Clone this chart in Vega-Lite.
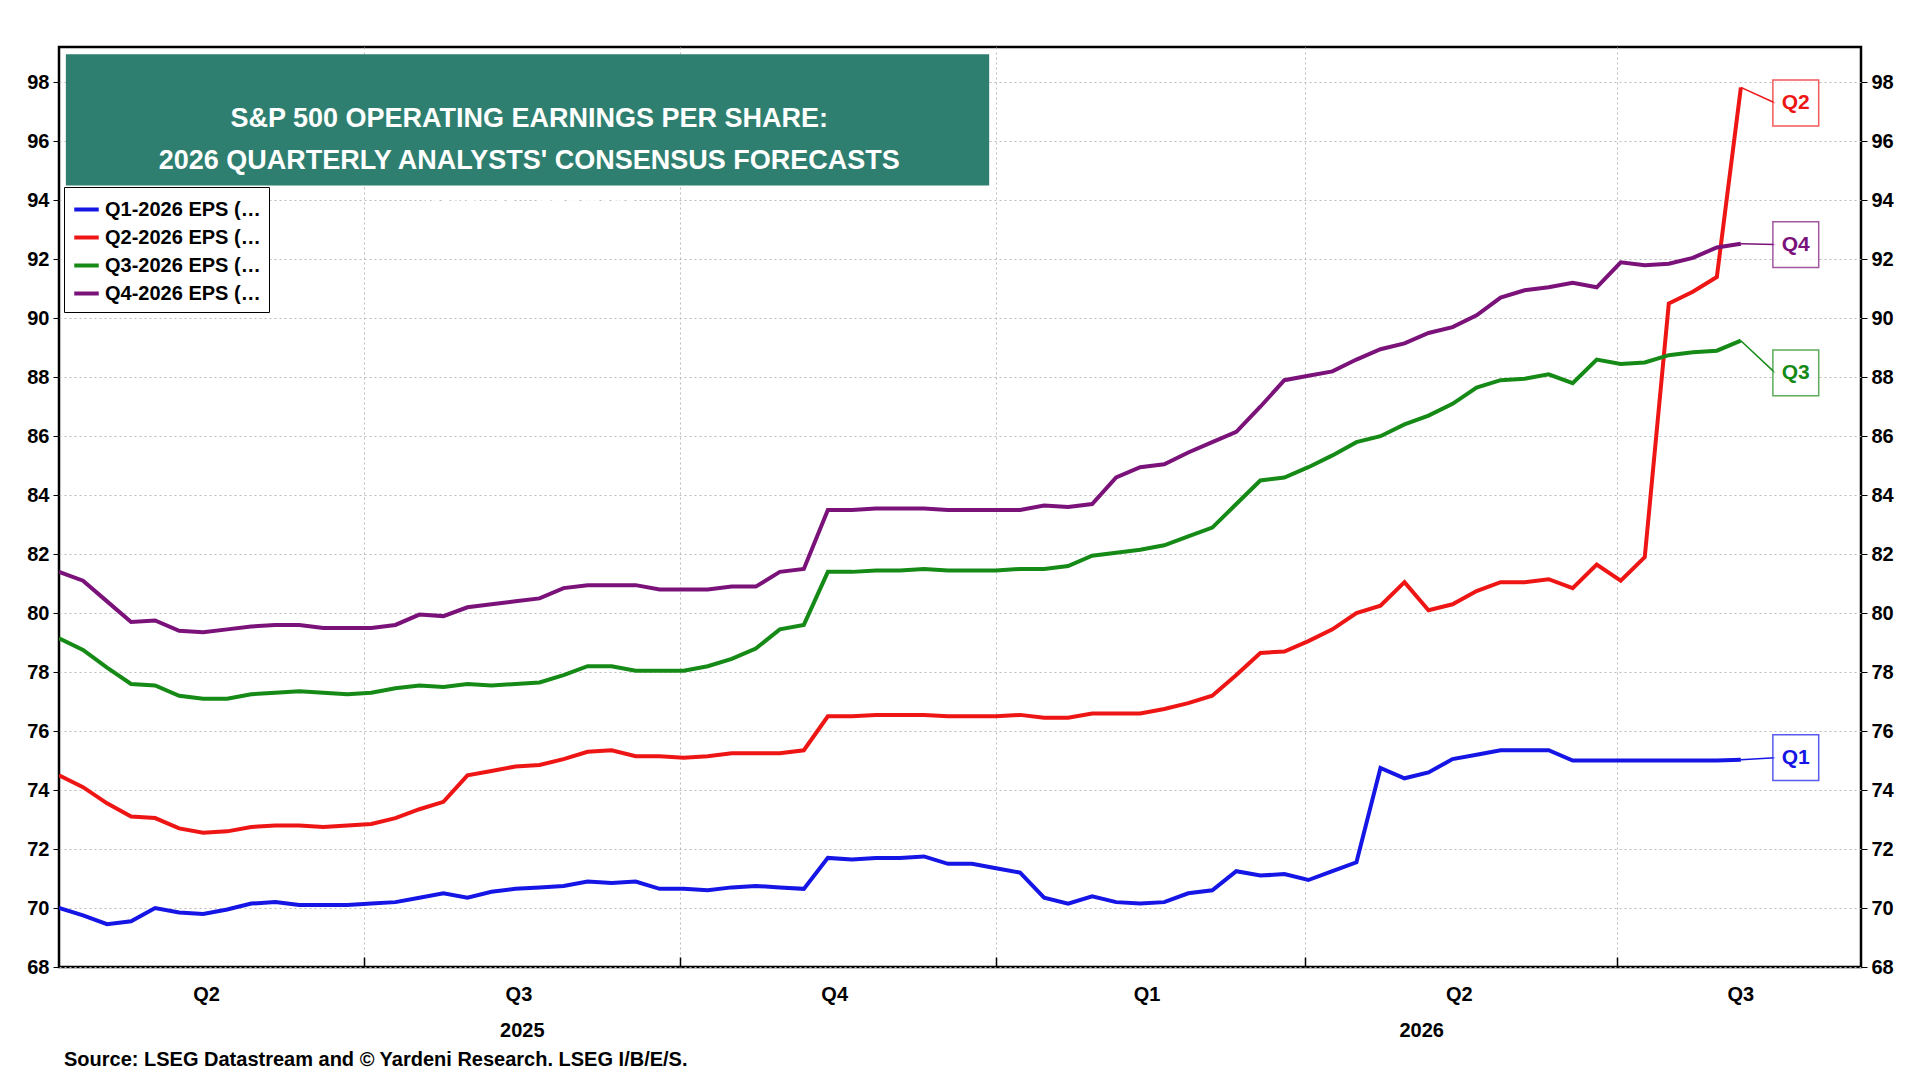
{
"$schema":"https://vega.github.io/schema/vega-lite/v6.json",
"width":1802,"height":920,
"autosize":{"type":"none"},
"padding":{"left":59,"top":47,"right":59,"bottom":113},
"background":"white",
"config":{"view":{"stroke":"black","strokeWidth":2.5},"font":"Liberation Sans"},
"datasets":{
"eps":[
{"d":"2025-04-03","q1":70.0,"q2":74.5,"q3":79.15,"q4":81.4},
{"d":"2025-04-10","q1":69.75,"q2":74.1,"q3":78.75,"q4":81.1},
{"d":"2025-04-17","q1":69.45,"q2":73.55,"q3":78.15,"q4":80.4},
{"d":"2025-04-24","q1":69.55,"q2":73.1,"q3":77.6,"q4":79.7},
{"d":"2025-05-01","q1":70.0,"q2":73.05,"q3":77.55,"q4":79.75},
{"d":"2025-05-08","q1":69.85,"q2":72.7,"q3":77.2,"q4":79.4},
{"d":"2025-05-15","q1":69.8,"q2":72.55,"q3":77.1,"q4":79.35},
{"d":"2025-05-22","q1":69.95,"q2":72.6,"q3":77.1,"q4":79.45},
{"d":"2025-05-29","q1":70.15,"q2":72.75,"q3":77.25,"q4":79.55},
{"d":"2025-06-05","q1":70.2,"q2":72.8,"q3":77.3,"q4":79.6},
{"d":"2025-06-12","q1":70.1,"q2":72.8,"q3":77.35,"q4":79.6},
{"d":"2025-06-19","q1":70.1,"q2":72.75,"q3":77.3,"q4":79.5},
{"d":"2025-06-26","q1":70.1,"q2":72.8,"q3":77.25,"q4":79.5},
{"d":"2025-07-03","q1":70.15,"q2":72.85,"q3":77.3,"q4":79.5},
{"d":"2025-07-10","q1":70.2,"q2":73.05,"q3":77.45,"q4":79.6},
{"d":"2025-07-17","q1":70.35,"q2":73.35,"q3":77.55,"q4":79.95},
{"d":"2025-07-24","q1":70.5,"q2":73.6,"q3":77.5,"q4":79.9},
{"d":"2025-07-31","q1":70.35,"q2":74.5,"q3":77.6,"q4":80.2},
{"d":"2025-08-07","q1":70.55,"q2":74.65,"q3":77.55,"q4":80.3},
{"d":"2025-08-14","q1":70.65,"q2":74.8,"q3":77.6,"q4":80.4},
{"d":"2025-08-21","q1":70.7,"q2":74.85,"q3":77.65,"q4":80.5},
{"d":"2025-08-28","q1":70.75,"q2":75.05,"q3":77.9,"q4":80.85},
{"d":"2025-09-04","q1":70.9,"q2":75.3,"q3":78.2,"q4":80.95},
{"d":"2025-09-11","q1":70.85,"q2":75.35,"q3":78.2,"q4":80.95},
{"d":"2025-09-18","q1":70.9,"q2":75.15,"q3":78.05,"q4":80.95},
{"d":"2025-09-25","q1":70.65,"q2":75.15,"q3":78.05,"q4":80.8},
{"d":"2025-10-02","q1":70.65,"q2":75.1,"q3":78.05,"q4":80.8},
{"d":"2025-10-09","q1":70.6,"q2":75.15,"q3":78.2,"q4":80.8},
{"d":"2025-10-16","q1":70.7,"q2":75.25,"q3":78.45,"q4":80.9},
{"d":"2025-10-23","q1":70.75,"q2":75.25,"q3":78.8,"q4":80.9},
{"d":"2025-10-30","q1":70.7,"q2":75.25,"q3":79.45,"q4":81.4},
{"d":"2025-11-06","q1":70.65,"q2":75.35,"q3":79.6,"q4":81.5},
{"d":"2025-11-13","q1":71.7,"q2":76.5,"q3":81.4,"q4":83.5},
{"d":"2025-11-20","q1":71.65,"q2":76.5,"q3":81.4,"q4":83.5},
{"d":"2025-11-27","q1":71.7,"q2":76.55,"q3":81.45,"q4":83.55},
{"d":"2025-12-04","q1":71.7,"q2":76.55,"q3":81.45,"q4":83.55},
{"d":"2025-12-11","q1":71.75,"q2":76.55,"q3":81.5,"q4":83.55},
{"d":"2025-12-18","q1":71.5,"q2":76.5,"q3":81.45,"q4":83.5},
{"d":"2025-12-25","q1":71.5,"q2":76.5,"q3":81.45,"q4":83.5},
{"d":"2026-01-01","q1":71.35,"q2":76.5,"q3":81.45,"q4":83.5},
{"d":"2026-01-08","q1":71.2,"q2":76.55,"q3":81.5,"q4":83.5},
{"d":"2026-01-15","q1":70.35,"q2":76.45,"q3":81.5,"q4":83.65},
{"d":"2026-01-22","q1":70.15,"q2":76.45,"q3":81.6,"q4":83.6},
{"d":"2026-01-29","q1":70.4,"q2":76.6,"q3":81.95,"q4":83.7},
{"d":"2026-02-05","q1":70.2,"q2":76.6,"q3":82.05,"q4":84.6},
{"d":"2026-02-12","q1":70.15,"q2":76.6,"q3":82.15,"q4":84.95},
{"d":"2026-02-19","q1":70.2,"q2":76.75,"q3":82.3,"q4":85.05},
{"d":"2026-02-26","q1":70.5,"q2":76.95,"q3":82.6,"q4":85.45},
{"d":"2026-03-05","q1":70.6,"q2":77.2,"q3":82.9,"q4":85.8},
{"d":"2026-03-12","q1":71.25,"q2":77.9,"q3":83.7,"q4":86.15},
{"d":"2026-03-19","q1":71.1,"q2":78.65,"q3":84.5,"q4":87.0},
{"d":"2026-03-26","q1":71.15,"q2":78.7,"q3":84.6,"q4":87.9},
{"d":"2026-04-02","q1":70.95,"q2":79.05,"q3":84.95,"q4":88.05},
{"d":"2026-04-09","q1":71.25,"q2":79.45,"q3":85.35,"q4":88.2},
{"d":"2026-04-16","q1":71.55,"q2":80.0,"q3":85.8,"q4":88.6},
{"d":"2026-04-23","q1":74.75,"q2":80.25,"q3":86.0,"q4":88.95},
{"d":"2026-04-30","q1":74.4,"q2":81.05,"q3":86.4,"q4":89.15},
{"d":"2026-05-07","q1":74.6,"q2":80.1,"q3":86.7,"q4":89.5},
{"d":"2026-05-14","q1":75.05,"q2":80.3,"q3":87.1,"q4":89.7},
{"d":"2026-05-21","q1":75.2,"q2":80.75,"q3":87.65,"q4":90.1},
{"d":"2026-05-28","q1":75.35,"q2":81.05,"q3":87.9,"q4":90.7},
{"d":"2026-06-04","q1":75.35,"q2":81.05,"q3":87.95,"q4":90.95},
{"d":"2026-06-11","q1":75.35,"q2":81.15,"q3":88.1,"q4":91.05},
{"d":"2026-06-18","q1":75.0,"q2":80.85,"q3":87.8,"q4":91.2},
{"d":"2026-06-25","q1":75.0,"q2":81.65,"q3":88.6,"q4":91.05},
{"d":"2026-07-02","q1":75.0,"q2":81.1,"q3":88.45,"q4":91.9},
{"d":"2026-07-09","q1":75.0,"q2":81.9,"q3":88.5,"q4":91.8},
{"d":"2026-07-16","q1":75.0,"q2":90.5,"q3":88.75,"q4":91.85},
{"d":"2026-07-23","q1":75.0,"q2":90.9,"q3":88.85,"q4":92.05},
{"d":"2026-07-30","q1":75.0,"q2":91.4,"q3":88.9,"q4":92.4},
{"d":"2026-08-06","q1":75.03,"q2":97.83,"q3":89.24,"q4":92.53}
],
"tags":[
{"s":"q1","t":"Q1","end":75.03,"ly":75.1},
{"s":"q2","t":"Q2","end":97.83,"ly":97.3},
{"s":"q3","t":"Q3","end":89.24,"ly":88.15},
{"s":"q4","t":"Q4","end":92.53,"ly":92.5}
],
"quarters":[
{"d":"2025-05-16","t":"Q2"},{"d":"2025-08-15","t":"Q3"},{"d":"2025-11-15","t":"Q4"},
{"d":"2026-02-14","t":"Q1"},{"d":"2026-05-16","t":"Q2"},{"d":"2026-08-06","t":"Q3"}
],
"years":[{"d":"2025-08-16","t":"2025"},{"d":"2026-05-05","t":"2026"}]
},
"resolve":{"axis":{"x":"independent","y":"independent"}},
"layer":[
{
"data":{"name":"eps"},
"transform":[{"fold":["q1","q2","q3","q4"],"as":["s","v"]}],
"mark":{"type":"line","strokeWidth":4,"clip":true},
"encoding":{
"x":{"field":"d","type":"temporal",
"scale":{"domain":[{"year":2025,"month":4,"date":3},{"year":2026,"month":9,"date":10}]},
"axis":{"values":[{"year":2025,"month":7,"date":1},{"year":2025,"month":10,"date":1},{"year":2026,"month":1,"date":1},{"year":2026,"month":4,"date":1},{"year":2026,"month":7,"date":1}],
"labels":false,"title":null,"grid":true,"gridDash":[2,3],"gridColor":"#bbbbbb","tickSize":-10,"tickColor":"black","tickWidth":1.5,"domain":false}},
"y":{"field":"v","type":"quantitative","scale":{"domain":[68,99.2],"nice":false,"zero":false},
"axis":{"values":[68,70,72,74,76,78,80,82,84,86,88,90,92,94,96,98],"title":null,"grid":true,"gridDash":[2,3],"gridColor":"#bbbbbb",
"labelFontSize":20,"labelFontWeight":"bold","labelColor":"black","tickColor":"black","tickSize":6,"domain":false,"labelPadding":4}},
"color":{"field":"s","type":"nominal",
"scale":{"domain":["q1","q2","q3","q4"],"range":["#1515e6","#ee1515","#168a16","#7a127a"]},
"legend":{"title":null,"orient":"none","legendX":5,"legendY":140,"fillColor":"white","strokeColor":"black","padding":8,
"labelFontSize":20,"labelFontWeight":"bold","labelColor":"black","symbolType":"stroke","symbolStrokeWidth":4,"symbolSize":600,"rowPadding":3,
"labelExpr":"datum.label=='q1'?'Q1-2026 EPS (Aug 06 = 75.03)':datum.label=='q2'?'Q2-2026 EPS (Aug 06 = 97.83)':datum.label=='q3'?'Q3-2026 EPS (Aug 06 = 89.24)':'Q4-2026 EPS (Aug 06 = 92.53)'"}}
}
},
{
"data":{"values":[{}]},
"mark":{"type":"rule","opacity":0},
"encoding":{
"y":{"datum":80,"type":"quantitative","scale":{"domain":[68,99.2],"nice":false,"zero":false},
"axis":{"orient":"right","values":[68,70,72,74,76,78,80,82,84,86,88,90,92,94,96,98],"title":null,"grid":false,
"labelFontSize":20,"labelFontWeight":"bold","labelColor":"black","tickColor":"black","tickSize":6,"domain":false,"labelPadding":4}}
}
},
{
"data":{"values":[{}]},
"mark":{"type":"rect","fill":"#2e7f6f"},
"encoding":{
"x":{"datum":{"year":2025,"month":4,"date":5},"type":"temporal","axis":null},
"x2":{"datum":{"year":2025,"month":12,"date":30}},
"y":{"datum":98.95,"type":"quantitative","axis":null},
"y2":{"datum":94.5}
}
},
{
"data":{"values":[{}]},
"mark":{"type":"text","text":["S&P 500 OPERATING EARNINGS PER SHARE:","2026 QUARTERLY ANALYSTS' CONSENSUS FORECASTS","(dollars, weekly)"],
"fontSize":27,"fontWeight":"bold","color":"white","lineHeight":42,"align":"center","baseline":"middle"},
"encoding":{
"x":{"datum":{"year":2025,"month":8,"date":18},"type":"temporal","axis":null},
"y":{"datum":96.75,"type":"quantitative","axis":null}
}
},
{
"data":{"name":"tags"},
"mark":{"type":"rule","strokeWidth":1.5},
"encoding":{
"x":{"datum":{"year":2026,"month":8,"date":6},"type":"temporal","axis":null},
"x2":{"datum":{"year":2026,"month":8,"date":16}},
"y":{"field":"end","type":"quantitative","axis":null},
"y2":{"field":"ly"},
"color":{"field":"s","type":"nominal","legend":null}
}
},
{
"data":{"name":"tags"},
"mark":{"type":"point","shape":"square","size":2100,"filled":true,"fill":"white","strokeWidth":1.5},
"encoding":{
"x":{"datum":{"year":2026,"month":8,"date":22},"type":"temporal","axis":null},
"y":{"field":"ly","type":"quantitative","axis":null},
"stroke":{"field":"s","type":"nominal","scale":{"domain":["q1","q2","q3","q4"],"range":["#1515e6","#ee1515","#168a16","#7a127a"]},"legend":null}
}
},
{
"data":{"name":"tags"},
"mark":{"type":"text","fontSize":21,"fontWeight":"bold","align":"center","baseline":"middle"},
"encoding":{
"x":{"datum":{"year":2026,"month":8,"date":22},"type":"temporal","axis":null},
"y":{"field":"ly","type":"quantitative","axis":null},
"text":{"field":"t"},
"color":{"field":"s","type":"nominal","legend":null}
}
},
{
"data":{"name":"quarters"},
"mark":{"type":"text","fontSize":20,"fontWeight":"bold","align":"center","baseline":"middle","clip":false,"color":"black"},
"encoding":{
"x":{"field":"d","type":"temporal","axis":null},
"y":{"datum":67.05,"type":"quantitative","axis":null},
"text":{"field":"t"}
}
},
{
"data":{"name":"years"},
"mark":{"type":"text","fontSize":20,"fontWeight":"bold","align":"center","baseline":"middle","clip":false,"color":"black"},
"encoding":{
"x":{"field":"d","type":"temporal","axis":null},
"y":{"datum":65.83,"type":"quantitative","axis":null},
"text":{"field":"t"}
}
},
{
"data":{"values":[{}]},
"mark":{"type":"text","text":"Source: LSEG Datastream and © Yardeni Research. LSEG I/B/E/S.","fontSize":20,"fontWeight":"bold","align":"left","baseline":"middle","clip":false,"color":"black","dx":5},
"encoding":{
"x":{"datum":{"year":2025,"month":4,"date":3},"type":"temporal","axis":null},
"y":{"datum":64.85,"type":"quantitative","axis":null}
}
}
]
}
